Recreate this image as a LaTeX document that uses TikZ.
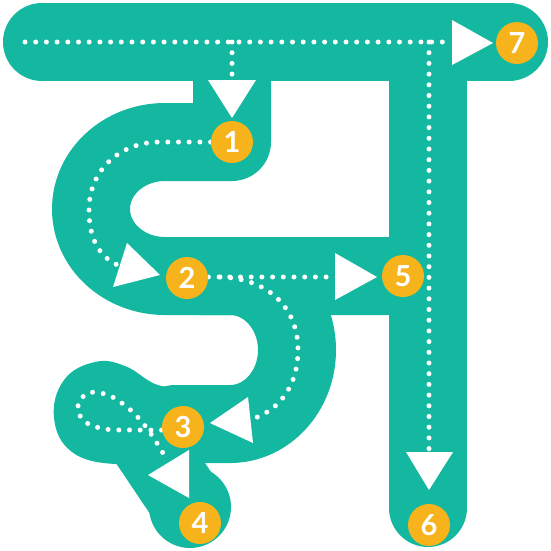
\documentclass[tikz,border=0pt]{standalone}
\usepackage{fontspec}
\setmainfont{Lato}
\definecolor{tealbody}{HTML}{14B8A0}
\definecolor{gold}{HTML}{F6B31B}
\begin{document}
\begin{tikzpicture}[x=1pt,y=-1pt,
  body/.style={draw=tealbody, line width=78pt, line cap=round, line join=round},
  dotline/.style={draw=white, line width=5pt, line cap=round, dash pattern=on 0pt off 10.7pt},
  tri/.style={fill=white},
  num/.style={circle, fill=gold, minimum size=42pt, inner sep=0pt, text=white,
              font=\bfseries\fontsize{29}{29}\selectfont}]
\useasboundingbox (0,0) rectangle (551,550);
% ---- teal letter body ----
\draw[body] (42,42) -- (509,42);
\draw[body] (428,42) -- (428,508);
\draw[body] (232,42) -- (232,142) -- (165,142)
  arc[start angle=270, end angle=90, x radius=74, y radius=67] -- (428,276);
\draw[body] (200,276) -- (230,276)
  arc[start angle=-90, end angle=90, x radius=67, y radius=74] -- (175,424);
\fill[tealbody] plot[smooth cycle, tension=0.7] coordinates
  {(54,418) (64,380) (95,362) (125,366) (155,384) (190,395) (200,440) (160,458) (115,464) (72,452)};
\draw[body, line width=74pt] (145,440) -- (190,507);
\fill[tealbody] (190,507) circle[radius=41];
% ---- named points ----
\coordinate (s7) at (25,42);
\coordinate (b7) at (452,42);
\coordinate (j1) at (232,42);
\coordinate (b1) at (232,79);
\coordinate (j6) at (429,42);
\coordinate (b6) at (429,450);
% ---- dotted guides ----
\draw[dotline] (s7) -- (b7);
\draw[dotline] (j1) -- (b1);
\draw[dotline] (j6) -- (b6);
\draw[dotline] (232,142) -- (160,142) .. controls (120,142) and (89,170) .. (89,210)
  .. controls (89,240) and (100,258) .. (120,266);
\draw[dotline] (187,277) -- (335,277);
\draw[dotline] (220,277) .. controls (265,278) and (298,305) .. (298,350)
  .. controls (298,385) and (280,410) .. (252,419);
\draw[dotline] plot[smooth, tension=0.6] coordinates
  {(183,430) (137,430) (105,429) (84,421) (78,406) (88,393) (108,395) (127,407) (142,422) (155,440) (167,460)};
% ---- arrow heads ----
\fill[tri] (452,20) -- (452,65) -- (493,43) -- cycle;
\fill[tri] (208,80) -- (256,80) -- (232,118) -- cycle;
\fill[tri] (406,452) -- (453,452) -- (429,490) -- cycle;
\fill[tri] (335,253) -- (335,300) -- (377,277) -- cycle;
\fill[tri] (127,243) -- (113,287) -- (160,275) -- cycle;
\fill[tri] (248,397) -- (253,443) -- (210,423) -- cycle;
\fill[tri] (148,475) -- (189,450) -- (189,498) -- cycle;
% ---- numbered circles ----
\node[num] (n1) at (232,142) {1};
\node[num] (n2) at (187,278) {2};
\node[num] (n3) at (183,427) {3};
\node[num] (n4) at (200,523) {4};
\node[num] (n5) at (403,276) {5};
\node[num] (n6) at (429,525) {6};
\node[num] (n7) at (517,43) {7};
\end{tikzpicture}
\end{document}
